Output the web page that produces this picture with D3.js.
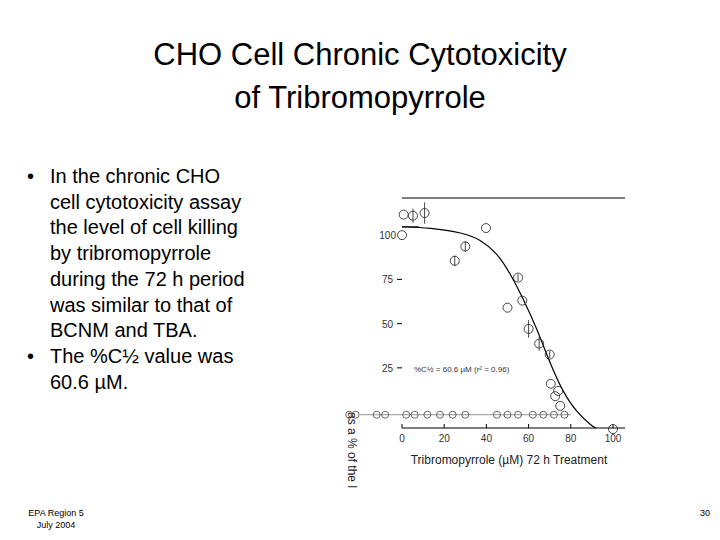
<!DOCTYPE html>
<html><head><meta charset="utf-8">
<script src="https://cdn.jsdelivr.net/npm/d3@7"></script>
<style>body{margin:0;background:#fff}</style>
</head><body>
<svg id="c" width="720" height="540"></svg>
<script>
var pointsX = [0, 0.8, 5.2, 10.7, 25, 30, 39.8, 50, 55, 57, 60, 65, 70, 70.5, 72.6, 74, 75, 100]
var pointsY = [100, 111.6, 111, 112.5, 85.5, 93.6, 104, 59, 76, 63, 47, 38.7, 32.5, 16, 9, 12, 3.5, -9.6]
var pointsErr = [0, 0, 4, 6, 3, 3, 0, 0, 2, 0, 5, 4, 2, 0, 0, 0, 0, 0]
var curveX = [0, 13, 29, 37, 45, 51, 57.5, 64, 70, 76.4, 82.7, 90.5, 92]
var curveY = [104.7, 104.2, 101.4, 97.6, 90, 79, 64, 47, 28, 11, 0, -8.5, -9]
var yTicks = [25, 50, 75, 100]
var xTicks = [0, 20, 40, 60, 80, 100]
var bullets = [
  ["In the chronic CHO", "cell cytotoxicity assay", "the level of cell killing", "by tribromopyrrole", "during the 72 h period", "was similar to that of", "BCNM and TBA."],
  ["The %C½ value was", "60.6 µM."]
]

var svg = d3.select("#c")
var font = "Liberation Sans, Arial, sans-serif"

svg.append("text").attr("x", 360).attr("y", 65).attr("text-anchor", "middle")
  .style("font-family", font).style("font-size", "31px").text("CHO Cell Chronic Cytotoxicity")
svg.append("text").attr("x", 360).attr("y", 108).attr("text-anchor", "middle")
  .style("font-family", font).style("font-size", "31px").text("of Tribromopyrrole")

// bullet text
var ty = 183
bullets.forEach(function(lines) {
  svg.append("text").attr("x", 27).attr("y", ty).style("font-family", font).style("font-size", "20px").text("•")
  lines.forEach(function(l) {
    svg.append("text").attr("x", 50).attr("y", ty)
      .style("font-family", font).style("font-size", "20px").text(l)
    ty += 25.7
  })
})

var x = d3.scaleLinear().domain([0, 100]).range([402, 613])
var y = d3.scaleLinear().domain([-9, 121]).range([428, 198])

svg.append("line").attr("x1", 402).attr("x2", 625).attr("y1", y(121)).attr("y2", y(121)).attr("stroke", "#000")
svg.append("line").attr("x1", 402).attr("x2", 625).attr("y1", y(-9)).attr("y2", y(-9)).attr("stroke", "#000")

xTicks.forEach(function(t) {
  svg.append("line").attr("x1", x(t)).attr("x2", x(t)).attr("y1", y(-9)).attr("y2", y(-9) - 4).attr("stroke", "#000")
  svg.append("text").attr("x", x(t)).attr("y", 442).attr("text-anchor", "middle")
    .style("font-family", font).style("font-size", "10px").style("fill", "#333").text(t)
})
yTicks.forEach(function(t) {
  svg.append("text").attr("x", t == 100 ? 396 : 393).attr("y", y(t) + 4).attr("text-anchor", "end")
    .style("font-family", font).style("font-size", "10px").style("fill", "#333").text(t)
  if (t != 100) svg.append("line").attr("x1", 397).attr("x2", 402).attr("y1", y(t)).attr("y2", y(t)).attr("stroke", "#000")
})

svg.append("text").attr("x", 509).attr("y", 464).attr("text-anchor", "middle")
  .style("font-family", font).style("font-size", "12px").style("fill", "#222").text("Tribromopyrrole (µM) 72 h Treatment")
svg.append("text").attr("transform", "translate(348,412) rotate(90)")
  .style("font-family", font).style("font-size", "12px").style("fill", "#222").text("as a % of the l")
svg.append("text").attr("x", 414).attr("y", y(25) + 4)
  .style("font-family", font).style("font-size", "8px").style("fill", "#333").text("%C½ = 60.6 µM (r² = 0.96)")

var line = d3.line().x(function(d, i) { return x(curveX[i]) }).y(function(d) { return y(d) }).curve(d3.curveBasis)
svg.append("path").attr("d", line(curveY)).attr("fill", "none").attr("stroke", "#000").attr("stroke-width", 1.2)
svg.append("line").attr("x1", 402).attr("x2", x(8)).attr("y1", y(104.7)).attr("y2", y(104.7)).attr("stroke", "#000")

// garbled baseline row
var rowX = [-25, -22, -12, -8, 2, 6, 12, 18, 24, 30, 45, 50, 55, 62, 67, 72, 77]
svg.selectAll(".row").data(rowX).enter().append("circle")
  .attr("cx", function(d) { return x(d) }).attr("cy", y(-1.5)).attr("r", 3.5)
  .attr("fill", "none").attr("stroke", "#444").attr("stroke-width", 0.8)
svg.append("line").attr("x1", x(-20)).attr("x2", x(80)).attr("y1", y(-1.5)).attr("y2", y(-1.5)).attr("stroke", "#444").attr("stroke-width", 0.6)

// error bars
svg.selectAll(".err").data(pointsX).enter().append("line")
  .attr("x1", function(d) { return x(d) }).attr("x2", function(d) { return x(d) })
  .attr("y1", function(d, i) { return y(pointsY[i] - pointsErr[i]) })
  .attr("y2", function(d, i) { return y(pointsY[i] + pointsErr[i]) })
  .attr("stroke", "#333").attr("stroke-width", 0.9)

svg.selectAll(".pt").data(pointsX).enter().append("circle")
  .attr("cx", function(d) { return x(d) }).attr("cy", function(d, i) { return y(pointsY[i]) }).attr("r", 4.5)
  .attr("fill", "none").attr("stroke", "#333").attr("stroke-width", 0.9)

svg.append("text").attr("x", 56).attr("y", 516).attr("text-anchor", "middle")
  .style("font-family", font).style("font-size", "9px").text("EPA Region 5")
svg.append("text").attr("x", 56).attr("y", 528).attr("text-anchor", "middle")
  .style("font-family", font).style("font-size", "9px").text("July 2004")
svg.append("text").attr("x", 710).attr("y", 516).attr("text-anchor", "end")
  .style("font-family", font).style("font-size", "9px").text("30")
</script>
</body></html>
